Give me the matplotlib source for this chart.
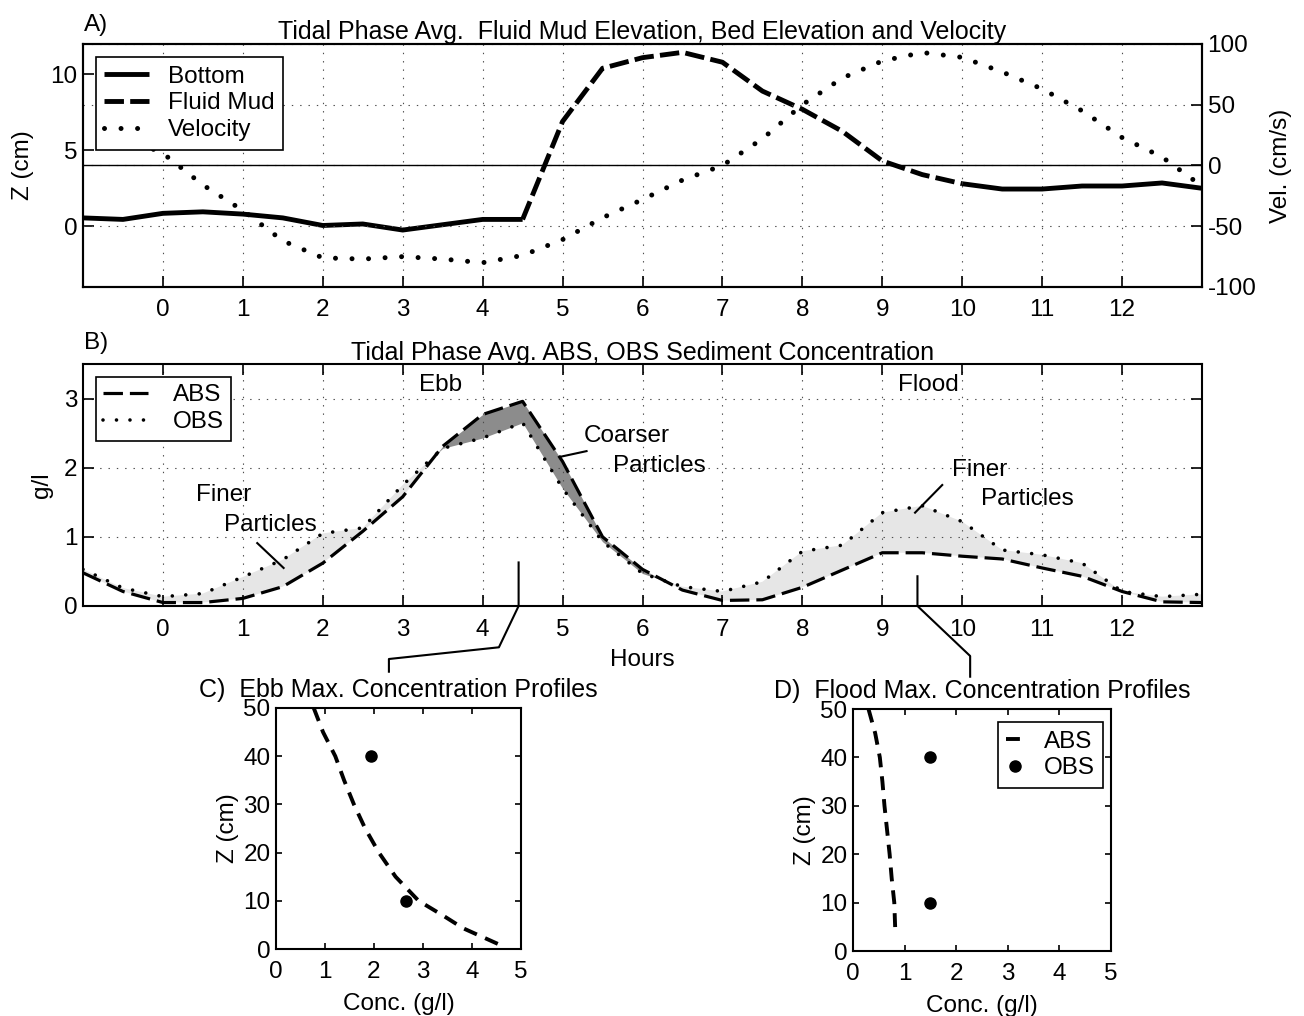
#!/usr/bin/env python3

import numpy as np
import matplotlib.pyplot as plt
from matplotlib.lines import Line2D

plt.rcParams['font.family'] = ['Liberation Sans', 'DejaVu Sans']
plt.rcParams['font.size'] = 17.5
plt.rcParams['axes.titlesize'] = 18
plt.rcParams['axes.unicode_minus'] = False
plt.rcParams['lines.scale_dashes'] = False
plt.rcParams['axes.linewidth'] = 1.5
plt.rcParams['xtick.direction'] = 'in'
plt.rcParams['ytick.direction'] = 'in'
plt.rcParams['xtick.major.size'] = 8
plt.rcParams['ytick.major.size'] = 8
plt.rcParams['xtick.major.width'] = 1.2
plt.rcParams['ytick.major.width'] = 1.2
plt.rcParams['xtick.major.pad'] = 9
plt.rcParams['ytick.major.pad'] = 4

nan = np.nan

# tidal phase, hours from high water
hours = [-1, -0.5, 0, 0.5, 1, 1.5, 2, 2.5, 3, 3.5, 4, 4.5, 5, 5.5, 6, 6.5,
         7, 7.5, 8, 8.5, 9, 9.5, 10, 10.5, 11, 11.5, 12, 12.5, 13]

# bed elevation (cm), gap where the fluid mud layer is present
bottom = [0.55, 0.45, 0.85, 0.95, 0.8, 0.55, 0.05, 0.15, -0.25, 0.1, 0.45, 0.45,
          nan, nan, nan, nan, nan, nan, nan, nan, nan, nan,
          2.8, 2.45, 2.45, 2.65, 2.65, 2.85, 2.5]
# fluid mud surface elevation (cm)
mud = [nan, nan, nan, nan, nan, nan, nan, nan, nan, nan, nan,
       0.45, 6.9, 10.4, 11.1, 11.45, 10.8, 8.9, 7.7, 6.25, 4.3, 3.4, 2.8,
       nan, nan, nan, nan, nan, nan]
# depth averaged velocity (cm/s)
velocity = [nan, 24, 10, -16, -37, -62, -76, -77, -75, -77, -80, -74, -61, -43,
            -28, -12, 0, 22, 50, 72, 86, 93, 89, 77, 63, 45, 23, 7, -17]

# phase averaged concentrations (g/l)
abs_conc = [0.48, 0.21, 0.05, 0.05, 0.11, 0.28, 0.62, 1.08, 1.58, 2.31, 2.77,
            2.96, 2.09, 1.0, 0.53, 0.23, 0.08, 0.09, 0.27, 0.52, 0.77, 0.77,
            0.72, 0.68, 0.55, 0.43, 0.21, 0.06, 0.05]
obs_conc = [0.53, 0.26, 0.135, 0.18, 0.42, 0.67, 1.05, 1.13, 1.75, 2.28, 2.43,
            2.65, 1.7, 0.93, 0.47, 0.28, 0.21, 0.35, 0.79, 0.88, 1.35, 1.45,
            1.22, 0.81, 0.74, 0.62, 0.21, 0.135, 0.17]

# hours of maximum ebb and flood concentration
t_ebb_max = 4.45
t_flood_max = 9.44

# concentration profiles at those times
ebb_abs_c = [0.77, 0.96, 1.21, 1.39, 1.59, 1.82, 2.1, 2.44, 2.91, 3.4, 3.82, 4.54]
ebb_abs_z = [50, 45, 40, 35, 30, 25, 20, 15, 10, 7, 4.3, 1]
ebb_obs_c = [1.93, 2.66]
ebb_obs_z = [40, 10]

flood_abs_c = [0.30, 0.43, 0.52, 0.57, 0.61, 0.66, 0.71, 0.75, 0.80, 0.82]
flood_abs_z = [50, 45, 40, 35, 30, 25, 20, 15, 10, 4]
flood_obs_c = [1.49, 1.49]
flood_obs_z = [40, 10]

hours = np.array(hours)
abs_conc = np.array(abs_conc)
obs_conc = np.array(obs_conc)

grid_kw = dict(color='0.3', linestyle=(0, (1, 5)), linewidth=0.8)
W, H = 1304, 1016

fig = plt.figure(figsize=(W / 100, H / 100), dpi=100)


def legend_frame(leg):
    fr = leg.get_frame()
    fr.set_edgecolor('k')
    fr.set_linewidth(1.2)
    fr.set_facecolor('w')
    fr.set_alpha(1)


# ---- A) elevations and velocity
axA = fig.add_axes([83 / W, 1 - 287 / H, 1119 / W, 243 / H])
lb, = axA.plot(hours, bottom, color='k', lw=3.5, solid_capstyle='butt')
lm, = axA.plot(hours, mud, color='k', lw=3.5, dashes=(14, 4.5))
axA.set_xlim(-1, 13)
axA.set_xticks(range(0, 13))
axA.set_ylim(-4, 12)
axA.set_yticks([0, 5, 10])
axA.tick_params(top=False, right=False)
axA.grid(axis='x', **grid_kw)
axA.set_ylabel('Z (cm)', labelpad=12)
axA.set_title('Tidal Phase Avg.  Fluid Mud Elevation, Bed Elevation and Velocity',
              pad=3)
axA.annotate('A)', xy=(0, 1), xycoords='axes fraction', xytext=(1, 14),
             textcoords='offset points', ha='left', va='center')

axV = axA.twinx()
lv, = axV.plot(hours, velocity, color='k', lw=3.6, dashes=(0.01, 11.9),
               dash_capstyle='round')
axV.axhline(0, color='k', lw=1.0)
axV.set_ylim(-100, 100)
axV.set_yticks([-100, -50, 0, 50, 100])
axV.grid(axis='y', **grid_kw)
axV.set_ylabel('Vel. (cm/s)', labelpad=10)
leg = axV.legend([lb, lm, lv], ['Bottom', 'Fluid Mud', 'Velocity'],
                 loc='upper left', bbox_to_anchor=(0.0116, 0.9465),
                 borderaxespad=0, fancybox=False, handlelength=1.85,
                 handletextpad=0.75, labelspacing=0.2, borderpad=0.35)
legend_frame(leg)

# ---- B) ABS / OBS concentrations
axB = fig.add_axes([83 / W, 1 - 606 / H, 1119 / W, 242 / H])
axB.fill_between(hours, abs_conc, obs_conc, where=obs_conc >= abs_conc,
                 interpolate=True, color='0.9', lw=0)
axB.fill_between(hours, abs_conc, obs_conc, where=abs_conc > obs_conc,
                 interpolate=True, color='0.55', lw=0)
la, = axB.plot(hours, abs_conc, color='k', lw=2.3, dashes=(14, 5))
lo, = axB.plot(hours, obs_conc, color='k', lw=2.6, dashes=(0.01, 9.7),
               dash_capstyle='round')
axB.set_xlim(-1, 13)
axB.set_xticks(range(0, 13))
axB.set_ylim(0, 3.5)
axB.set_yticks([0, 1, 2, 3])
axB.tick_params(top=True, right=True)
axB.grid(**grid_kw)
axB.set_ylabel('g/l', labelpad=8)
axB.set_xlabel('Hours', labelpad=6)
axB.set_title('Tidal Phase Avg. ABS, OBS Sediment Concentration', pad=3)
axB.annotate('B)', xy=(0, 1), xycoords='axes fraction', xytext=(1, 15),
             textcoords='offset points', ha='left', va='center')
leg = axB.legend([la, lo], ['ABS', 'OBS'], loc='upper left',
                 bbox_to_anchor=(0.0116, 0.946), borderaxespad=0,
                 fancybox=False, handlelength=1.85, handletextpad=1.0,
                 labelspacing=0.2, borderpad=0.3)
legend_frame(leg)

axB.text(3.475, 3.2, 'Ebb', ha='center', va='center')
axB.text(9.58, 3.2, 'Flood', ha='center', va='center')

axB.text(0.41, 1.61, 'Finer', ha='left', va='center')
axB.text(0.76, 1.17, 'Particles', ha='left', va='center')
axB.plot([1.18, 1.51], [0.91, 0.55], color='k', lw=1.5)

axB.text(5.26, 2.46, 'Coarser', ha='left', va='center')
axB.text(5.63, 2.03, 'Particles', ha='left', va='center')
axB.plot([4.98, 5.30], [2.16, 2.24], color='k', lw=1.5)

axB.text(9.87, 1.97, 'Finer', ha='left', va='center')
axB.text(10.23, 1.55, 'Particles', ha='left', va='center')
axB.plot([9.75, 9.41], [1.75, 1.35], color='k', lw=1.5)

# leader lines from the concentration maxima down to the profile panels
to_fig = fig.transFigure.inverted()


def leader(t, c_top, offsets):
    x0, y0 = axB.transData.transform((t, c_top))
    x1, y1 = axB.transData.transform((t, 0))
    pts = [(x0, y0), (x1, y1)] + [(x1 + dx, y1 - dy) for dx, dy in offsets]
    pts = to_fig.transform(pts)
    fig.add_artist(Line2D(pts[:, 0], pts[:, 1], color='k', lw=1.5,
                          transform=fig.transFigure))


leader(t_ebb_max, 0.63, [(-19.7, 41.3), (-129.7, 53), (-129.7, 65.7)])
leader(t_flood_max, 0.43, [(52.7, 50), (52.7, 70.7)])


# ---- C) and D) profiles
def profile_axes(rect, title):
    ax = fig.add_axes(rect)
    ax.set_xlim(0, 5)
    ax.set_ylim(0, 50)
    ax.set_xticks(range(0, 6))
    ax.set_yticks(range(0, 51, 10))
    ax.tick_params(axis='x', top=True, length=4.5, pad=9)
    ax.tick_params(axis='y', right=True, length=4.5, pad=4)
    ax.set_xlabel('Conc. (g/l)', labelpad=7)
    ax.set_ylabel('Z (cm)', labelpad=3)
    ax.set_title(title, pad=8)
    return ax


axC = profile_axes([276 / W, 1 - 949 / H, 245 / W, 241 / H],
                   'C)  Ebb Max. Concentration Profiles')
axC.plot(ebb_abs_c, ebb_abs_z, color='k', lw=2.8, dashes=(10, 6.5))
axC.plot(ebb_obs_c, ebb_obs_z, 'o', color='k', ms=8, ls='none')

axD = profile_axes([853 / W, 1 - 951 / H, 258 / W, 242 / H],
                   'D)  Flood Max. Concentration Profiles')
ld, = axD.plot(flood_abs_c, flood_abs_z, color='k', lw=2.8, dashes=(10, 6.5))
lp, = axD.plot(flood_obs_c, flood_obs_z, 'o', color='k', ms=8, ls='none')
leg = axD.legend([ld, lp], ['ABS', 'OBS'], loc='upper right',
                 bbox_to_anchor=(0.970, 0.946), borderaxespad=0,
                 fancybox=False, handlelength=0.75, handletextpad=0.8,
                 labelspacing=0.2, borderpad=0.35)
legend_frame(leg)

fig.savefig('out.png', dpi=100)
plt.close(fig)
